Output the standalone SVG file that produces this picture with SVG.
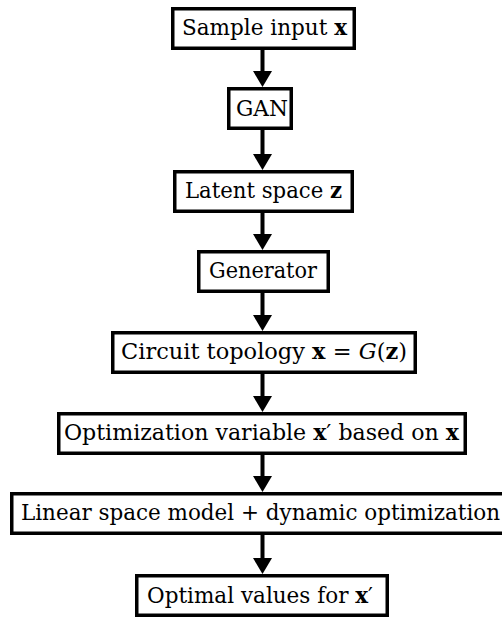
<svg xmlns="http://www.w3.org/2000/svg" width="502" height="618" viewBox="0 0 502 618">
  <style>
    .box { fill: #ffffff; stroke: #000000; stroke-width: 3.5; }
    .lbl { font-family: 'DejaVu Serif', serif; font-size: 22px; fill: #000000; }
    .b { font-weight: bold; }
    .i { font-style: italic; }
    .edge { stroke: #000000; stroke-width: 4; fill: none; marker-end: url(#head); }
  </style>
  <defs>
    <marker id="head" markerUnits="userSpaceOnUse" markerWidth="16" markerHeight="19" refX="12" refY="9.5" orient="auto">
      <path d="M0,0 L16,9.5 L0,19 Z" fill="#000000"/>
    </marker>
  </defs>
  <rect x="0" y="0" width="502" height="618" fill="#ffffff"/>

  <g id="connectors">
    <line class="edge" x1="262.5" y1="50" x2="262.5" y2="83"/>
    <line class="edge" x1="262.5" y1="130" x2="262.5" y2="166"/>
    <line class="edge" x1="262.5" y1="213" x2="262.5" y2="246"/>
    <line class="edge" x1="262.5" y1="293" x2="262.5" y2="327"/>
    <line class="edge" x1="262.5" y1="374" x2="262.5" y2="408"/>
    <line class="edge" x1="262.5" y1="455" x2="262.5" y2="488"/>
    <line class="edge" x1="262.5" y1="535" x2="262.5" y2="570"/>
  </g>

  <g id="sample-input">
    <rect class="box" x="172.75" y="8.75" width="181.5" height="39.5"/>
    <text class="lbl" x="182" y="35" textLength="165" lengthAdjust="spacingAndGlyphs">Sample input <tspan class="b">x</tspan></text>
  </g>

  <g id="gan">
    <rect class="box" x="228.75" y="88.75" width="62.5" height="39.5"/>
    <text class="lbl" x="236" y="116" textLength="52" lengthAdjust="spacingAndGlyphs">GAN</text>
  </g>

  <g id="latent-space">
    <rect class="box" x="174.75" y="171.75" width="177.5" height="39.5"/>
    <text class="lbl" x="185" y="198" textLength="157" lengthAdjust="spacingAndGlyphs">Latent space <tspan class="b">z</tspan></text>
  </g>

  <g id="generator">
    <rect class="box" x="198.75" y="251.75" width="129.5" height="39.5"/>
    <text class="lbl" x="209" y="278" textLength="108" lengthAdjust="spacingAndGlyphs">Generator</text>
  </g>

  <g id="circuit-topology">
    <rect class="box" x="112.75" y="332.75" width="302.5" height="39.5"/>
    <text class="lbl" x="121" y="359" textLength="286" lengthAdjust="spacingAndGlyphs">Circuit topology <tspan class="b">x</tspan> = <tspan class="i">G</tspan>(<tspan class="b">z</tspan>)</text>
  </g>

  <g id="optimization-variable">
    <rect class="box" x="58.75" y="413.75" width="406.5" height="39.5"/>
    <text class="lbl" x="64" y="440" textLength="395" lengthAdjust="spacingAndGlyphs">Optimization variable <tspan class="b">x</tspan>′ based on <tspan class="b">x</tspan></text>
  </g>

  <g id="linear-space-model">
    <rect class="box" x="11.75" y="493.75" width="503.5" height="39.5"/>
    <text class="lbl" x="21" y="520" textLength="479" lengthAdjust="spacingAndGlyphs">Linear space model + dynamic optimization</text>
  </g>

  <g id="optimal-values">
    <rect class="box" x="136.75" y="575.75" width="250.5" height="39.5"/>
    <text class="lbl" x="147" y="603" textLength="226" lengthAdjust="spacingAndGlyphs">Optimal values for <tspan class="b">x</tspan>′</text>
  </g>
</svg>
